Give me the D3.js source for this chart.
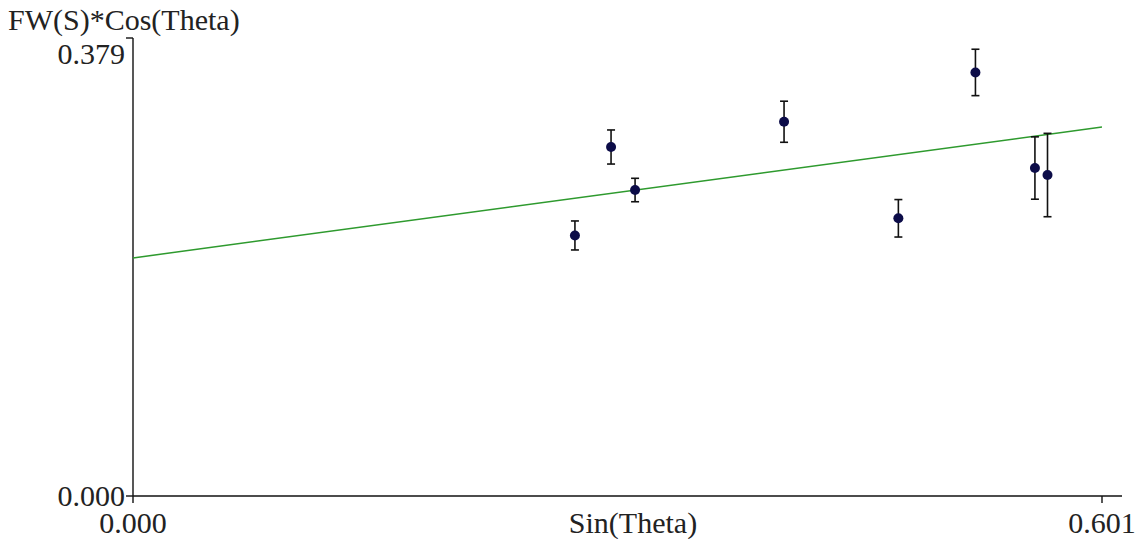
<!DOCTYPE html>
<html>
<head>
<meta charset="utf-8">
<script src="https://cdn.jsdelivr.net/npm/d3@7"></script>
<style>
  html,body{margin:0;padding:0;background:#fff;}
  svg{display:block;}
  svg text{font-family:"Liberation Serif","Times New Roman","DejaVu Serif",serif;}
</style>
</head>
<body>
<svg id="chart" width="1138" height="539"></svg>
<script>
// measured points: Sin(Theta) vs FW(S)*Cos(Theta), with error half-widths
var sinTheta = [0.2741, 0.2965, 0.3114, 0.4038, 0.4747, 0.5225, 0.5594, 0.5672];
var fwCos    = [0.2156, 0.2888, 0.2532, 0.3097, 0.2298, 0.3505, 0.2714, 0.2656];
var errHalf  = [0.0120, 0.0141, 0.0097, 0.0170, 0.0155, 0.0192, 0.0258, 0.0345];
// fitted straight line
var fitIntercept = 0.197;
var fitSlope = 0.1802;
var xTicks = [0, 0.601];
var yTicks = [0, 0.379];
var xTitle = 'Sin(Theta)';
var yTitle = 'FW(S)*Cos(Theta)';

var svg = d3.select('#chart');
var FS = '30px';

var x = d3.scaleLinear().domain([0, 0.601]).range([133, 1102]);
var y = d3.scaleLinear().domain([0, 0.379]).range([496, 38]);

/* axes */
var ax = svg.append('g').attr('stroke', '#111').attr('stroke-width', 1.4);
// x axis line runs a bit past the last tick
ax.append('line').attr('x1', x(0)).attr('x2', x(0.601) + 20).attr('y1', y(0)).attr('y2', y(0));
ax.append('line').attr('x1', x(0)).attr('x2', x(0)).attr('y1', y(0.379)).attr('y2', y(0));

xTicks.forEach(function(t){
  ax.append('line').attr('x1', x(t)).attr('x2', x(t)).attr('y1', y(0)).attr('y2', y(0) + 7);
  svg.append('text').attr('x', x(t)).attr('y', 533).attr('text-anchor', 'middle')
    .attr('font-size', FS).attr('fill', '#222')
    .text(d3.format('.3f')(t));
});
yTicks.forEach(function(t, i){
  ax.append('line').attr('x1', x(0) - 7).attr('x2', x(0)).attr('y1', y(t)).attr('y2', y(t));
  svg.append('text').attr('x', x(0) - 8).attr('y', i === 0 ? y(t) + 10 : y(t) + 26)
    .attr('text-anchor', 'end')
    .attr('font-size', FS).attr('fill', '#222')
    .text(d3.format('.3f')(t));
});

svg.append('text').attr('x', 633).attr('y', 533).attr('text-anchor', 'middle')
  .attr('font-size', FS).attr('fill', '#222').text(xTitle);
svg.append('text').attr('x', 8).attr('y', 30)
  .attr('font-size', FS).attr('fill', '#222').text(yTitle);

/* fit line */
svg.append('line')
  .attr('x1', x(0)).attr('y1', y(fitIntercept))
  .attr('x2', x(0.601)).attr('y2', y(fitIntercept + fitSlope * 0.601))
  .attr('stroke', '#2e9a2e').attr('stroke-width', 1.5);

/* error bars + points */
var pts = sinTheta.map(function(s, i){ return {x: s, y: fwCos[i], e: errHalf[i]}; });
var eg = svg.append('g').attr('stroke', '#111').attr('stroke-width', 1.6);
pts.forEach(function(d){
  eg.append('line').attr('x1', x(d.x)).attr('x2', x(d.x)).attr('y1', y(d.y - d.e)).attr('y2', y(d.y + d.e));
  eg.append('line').attr('x1', x(d.x) - 4).attr('x2', x(d.x) + 4).attr('y1', y(d.y + d.e)).attr('y2', y(d.y + d.e));
  eg.append('line').attr('x1', x(d.x) - 4).attr('x2', x(d.x) + 4).attr('y1', y(d.y - d.e)).attr('y2', y(d.y - d.e));
});
svg.append('g').selectAll('circle').data(pts).enter().append('circle')
  .attr('cx', function(d){ return x(d.x); })
  .attr('cy', function(d){ return y(d.y); })
  .attr('r', 5)
  .attr('fill', '#0c0c48');
</script>
</body>
</html>
